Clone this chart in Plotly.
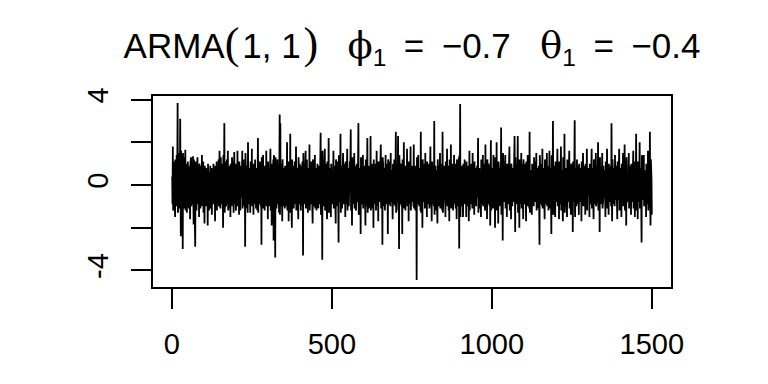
import plotly.graph_objects as go

# Simulated ARMA(1,1) series values (t = 1..1500), in six segments
y_seg1 = [
    0.4, -0.9, 1.8, -1.2, 0.6, -0.3, 1.1, -0.8, 0.9, -1.5, 1.2, -0.6, 0.3, -1.0, 1.4, -0.7, 0.8, 3.84, -1.3, 1.0,
    -0.4, 1.5, -1.1, 0.7, -0.5, 3.1, -0.9, -2.4, 1.6, -0.8, 0.9, -1.4, 1.2, -3.0, 1.5, -0.6, 0.4, -1.1, 1.3, -0.9,
    0.5, 1.65, -1.2, 0.8, -0.3, 1.0, -1.3, 0.6, -0.2, 1.1,
    -0.7, 0.9, -1.1, 0.3, 0.8, -0.5, -1.6, 1.0, -0.4, 1.3, -1.0, 0.6, -0.2, 0.7, -0.9, 1.35, -0.6, -1.85, 1.2, -0.3,
    0.5, -0.8, -2.9, 1.1, -0.4, 0.9, -1.2, 0.8, -0.6, 1.3, -0.9, 0.4, -0.1, 0.7, -1.5, 1.0, -0.7, 0.5, -1.1, 0.9,
    -0.3, 0.6, -1.0, 1.4, -0.8, 0.2, -0.5, 1.1, -1.3, 0.7,
    -0.4, -1.8, 0.9, -0.6, 0.5, -1.0, 0.8, -0.2, 0.4, -0.9, 0.7, -1.9, 1.0, -0.5, 0.3, -1.2, 0.6, -0.7, 0.2, 0.9,
    -1.1, 0.5, -0.3, 0.8, -1.4, 0.7, -0.6, 0.4, -0.9, 1.0, -0.5, 0.3, -1.0, 0.6, -1.7, 0.9, -0.4, 0.5, -0.8, 1.1,
    -1.2, 0.8, -0.3, 0.2, -0.7, 1.2, -1.0, 0.4, 1.6, -0.9,
    0.6, -1.1, 1.3, -0.5, 0.2, -0.9, 1.0, -0.7, 0.8, -2.0, 1.4, -0.6, 0.5, 2.9, -1.3, 0.7, -0.4, 1.1, -1.0, 0.3,
    -0.6, 1.2, -0.9, 0.4, 1.6, -1.2, 0.8, -0.3, 0.6, -1.1, 0.9, -0.2, -1.5, 1.0, -0.7, 0.5, -1.0, 1.3, -0.4, 0.2,
    -0.8, 1.1, -1.3, 0.6, 1.55, -0.9, 0.4, -0.6, 1.0, -1.2,
    0.9, -0.5, 0.3, -1.0, 1.6, -0.8, 0.6, -0.2, 0.7, -1.4, 1.1, -0.4, 0.5, -1.2, 0.9, -0.7, 0.2, -0.6, 1.0, 1.6,
    -1.1, 0.4, -0.9, 1.2, -0.3, 0.6, -1.0, 0.8, -2.9, 1.5, -0.6, 0.3, -1.1, 0.9, -0.4, 0.7, -1.3, 2.0, -0.9, 0.5,
    -0.2, 0.8, -1.0, 0.6, -1.3, 1.1, -0.5, 0.3, -0.8, 1.7,
]
y_seg2 = [
    -1.0, 0.6, -0.3, 0.9, -1.4, 1.0, -0.6, 0.4, -0.9, 1.2, -0.5, 0.2, -1.1, 0.8, -0.4, 0.6, -1.2, 1.0, 2.2, -1.3,
    0.7, -0.5, 0.3, -0.9, 1.1, -0.7, 0.5, -1.0, 0.9, -2.8, 1.3, -0.4, 0.6, -0.8, 1.4, -1.1, 0.3, -0.2, 0.8, -1.2,
    0.9, -0.6, 0.4, -0.9, 1.6, -1.0, 0.5, -0.3, 0.7, -1.6,
    1.1, -0.5, 0.4, -1.0, 0.8, -0.3, 0.6, 1.7, -1.2, 0.5, 0.3, -1.9, 1.0, -0.6, 0.2, -0.8, 1.2, -2.6, 1.4, -0.7,
    0.5, 0.9, -3.4, 1.3, -0.4, 0.6, -1.1, 0.8, -0.5, 1.2, -0.9, 0.3, -0.6, 0.9, -1.3, 0.7, 3.3, -1.4, 2.9, -1.0,
    0.4, -0.7, 1.0, -0.3, -1.7, 1.2, -0.5, 0.6, -1.0, 0.8,
    -0.6, 0.3, -1.1, 0.9, -0.4, 0.7, -1.0, 0.5, -0.8, 2.0, -1.2, 0.6, -0.3, 1.0, -1.7, 1.1, -0.5, 0.4, -0.9, 2.4,
    -1.3, 0.8, -0.2, 0.6, -2.0, 1.2, -0.7, 0.3, -0.5, 0.9, -1.1, 0.7, -0.4, 1.1, -0.9, 0.2, -0.6, 1.8, -1.2, 0.5,
    -0.3, 0.8, -1.0, 0.6, -1.6, 1.3, -0.6, 0.4, -0.9, 1.0,
    -0.7, 0.5, -1.2, 0.9, -0.3, 0.6, -1.0, 1.1, 0.7, -3.3, 1.5, -0.6, 0.3, -0.9, 1.0, -0.5, 0.2, 1.6, -1.1, 0.4,
    -0.8, 1.2, -0.4, 0.6, -1.3, 0.8, -0.2, 0.5, -1.0, 1.9, -1.2, 0.7, -0.5, 0.3, -0.9, 1.1, -0.6, 0.8, -0.3, -1.8,
    1.2, -0.7, 0.4, -1.0, 0.9, -0.4, 1.4, -1.1, 0.6, -0.5,
    0.8, -1.2, 0.5, -0.3, 1.0, -0.8, 0.6, -1.1, 0.9, -0.4, 0.3, -0.9, 1.2, -0.6, 2.45, -1.4, 0.7, -0.5, 0.8, -3.5,
    1.6, -0.7, 0.4, -1.0, 0.9, -0.3, 0.5, 1.7, -1.2, 0.6, -0.8, 1.0, -0.5, 0.2, -1.6, 1.1, -0.4, 0.7, -1.0, 2.2,
    -1.3, 0.5, -0.2, 0.8, -0.9, 0.6, -1.5, 1.0, -0.6, 0.4,
]
y_seg3 = [
    -0.9, 0.7, -0.4, 0.3, 1.6, -1.1, 0.5, -0.7, 0.9, -0.3, 0.6, -1.8, 1.2, -0.5, 0.4, -1.0, 0.8, -0.6, 1.1, -0.2,
    -2.7, 1.4, -0.6, 0.3, -0.8, 0.7, 2.4, -1.3, 0.6, -0.4, 0.9, -1.1, 0.5, -0.7, 1.5, -0.9, 0.2, -0.5, 1.0, -0.8,
    0.6, -1.5, 1.1, -0.4, 0.3, -0.9, 0.7, 1.7, -1.2, 0.5,
    -0.5, 0.8, -1.0, 0.4, -0.6, 1.1, -0.3, 0.5, 2.6, -1.2, 0.7, -0.4, -1.9, 1.3, -0.6, 0.2, -0.9, 0.8, -0.5, 1.5,
    -1.1, 0.6, -0.3, 0.9, -1.2, 0.4, -0.7, 1.0, -0.4, 0.3, -0.8, 1.2, 2.9, -1.4, 0.6, -0.5, 0.8, -1.0, 0.7, -2.3,
    1.3, -0.6, 0.4, -0.9, 1.0, -0.3, 1.4, -1.1, 0.5, -0.7,
    0.9, -0.4, 0.6, -0.8, -1.9, 1.2, -0.5, 0.3, -1.0, 0.7, 2.2, -1.3, 0.5, -0.6, 0.9, -1.1, 0.4, -0.2, 0.8, -0.9,
    2.3, -1.2, 0.6, -0.4, 1.0, -0.7, 0.3, -1.1, 0.8, -2.0, 1.2, -0.5, 0.7, -0.9, 0.4, -0.3, 1.0, -1.2, 0.6, 1.6,
    -1.0, 0.5, -0.7, 0.9, -1.7, 1.1, -0.4, 0.2, -0.8, 0.7,
    -0.6, 0.4, 1.9, -1.1, 0.6, -0.5, 0.9, -2.8, 1.3, -0.4, 0.7, -1.0, 0.5, -0.2, 0.8, -1.2, 0.3, 1.4, -0.9, 0.6,
    -0.7, 1.0, -0.4, 0.5, -2.3, 1.2, -0.6, 0.3, -0.9, 0.8, -0.5, 1.1, -1.0, 1.5, -0.8, 0.4, -0.3, 0.7, -1.1, -1.6,
    1.0, -0.5, 0.6, -0.9, 1.2, -0.4, 0.3, -1.0, 0.8, 2.5,
    -1.3, 0.6, -0.4, 0.9, -0.8, 0.5, 2.3, -1.2, 0.7, -3.0, 1.4, -0.5, 0.3, -0.9, 1.0, -0.6, 0.4, -1.0, 0.8, -2.3,
    1.2, -0.4, 0.6, -0.8, 2.0, -1.1, 0.5, -0.3, 0.7, -1.2, 0.9, -0.5, 0.2, -0.7, 1.7, -1.0, 0.6, -0.4, 0.8, -1.7,
    1.1, -0.6, 0.3, -0.9, 0.5, 1.8, -1.2, 0.4, -0.6, 0.9,
]
y_seg4 = [
    -0.8, 0.5, -0.3, 0.7, -1.0, 1.9, -1.1, 0.6, -0.5, 0.9, -1.2, 0.8, -0.4, 0.6, -4.45, 1.3, -0.2, 0.4, -0.9, 1.4,
    -0.7, 0.5, -1.0, 0.8, -0.3, 0.6, -1.2, 2.5, -1.3, 0.7, -0.4, 0.9, -2.0, 1.2, -0.6, 0.3, -0.8, 1.0, -0.5, 0.4,
    -1.1, 1.5, -0.9, 0.6, -0.3, 0.8, -1.5, 1.1, -0.4, 0.5,
    -0.9, 0.7, -0.5, 1.0, -1.1, 0.4, -0.6, 1.8, -1.0, 0.5, 0.3, -1.7, 1.1, -0.4, 0.6, -0.9, 0.8, -0.3, -1.0, 3.0,
    -1.4, 0.6, -0.5, 0.9, -1.2, 0.7, -0.2, 0.5, -0.8, -1.8, 1.2, -0.6, 0.4, -1.0, 0.9, -0.5, 0.3, 1.5, -1.1, 0.6,
    -0.7, 1.0, -0.4, 0.5, -1.2, 2.5, -1.3, 0.8, -0.6, 0.4,
    0.9, -0.7, 0.5, 0.2, -1.5, 1.1, -0.6, 0.4, -0.9, 1.7, -1.0, 0.6, -0.3, 0.8, -1.2, 0.9, -1.7, 1.2, -0.4, 0.5,
    -0.8, 1.9, -1.1, 0.3, -0.6, 1.0, -0.5, 0.7, -1.2, 0.6, -0.3, 1.4, -0.9, 0.4, -0.7, 1.0, -1.1, 0.5, 0.3, -1.6,
    1.2, -0.5, 0.8, -1.0, 0.6, -0.4, 1.3, -2.98, 1.4, -0.6,
    3.8, -1.5, 0.8, -0.4, 0.6, -1.0, 0.9, -0.3, 0.5, -1.5, 1.0, -0.6, 0.3, -0.8, 1.2, -0.9, 0.4, -0.2, 0.7, -1.5,
    1.1, -0.5, 0.6, -1.0, 0.8, -0.4, 0.9, -1.7, 0.5, 1.6, -1.2, 0.7, -0.5, 0.3, -0.9, 1.0, -0.6, 0.4, -1.1, 1.5,
    -0.8, 0.5, -0.3, 0.9, -1.4, 1.1, -0.7, 0.6, -0.4, 0.8,
    -1.0, 0.5, -0.6, 0.9, -0.3, 0.4, 2.2, -1.3, 0.7, -0.5, 0.8, -1.1, 0.6, -0.2, 0.5, -1.5, 1.2, -0.7, 0.4, -0.9,
    0.6, 1.4, -1.0, 0.3, -0.6, 1.0, -0.8, 0.5, -1.2, 1.9, -1.1, 0.6, -0.4, 0.8, -1.6, 1.2, -0.5, 0.3, -0.9, 1.0,
    -0.6, 0.4, -1.0, 0.9, -1.9, 0.7, 2.1, -1.2, 0.5, -0.7,
]
y_seg5 = [
    0.8, -0.4, 0.6, -1.1, 1.4, -0.7, 0.3, -0.5, 0.9, -2.0, 1.3, -0.6, 0.4, -0.9, 2.0, -1.2, 0.5, -0.3, 0.7, -1.8,
    1.1, -0.4, 0.6, -1.0, 0.8, -0.5, 0.2, -0.9, 2.7, -1.4, 0.7, -0.3, 0.9, -2.6, 1.5, -0.6, 0.4, -0.8, 1.0, -0.5,
    0.3, 1.4, -1.1, 0.6, -0.4, 0.9, -1.5, 1.0, -0.6, 0.5,
    -0.9, 0.6, -0.3, 0.4, 1.8, -1.2, 0.7, -0.5, 0.9, -1.6, 1.0, -0.4, 0.5, -1.0, 0.8, -0.6, 0.3, -0.8, 1.1, -0.7,
    2.3, 0.4, -2.2, 1.3, -0.5, 0.6, -0.9, 0.8, -0.3, 0.5, 2.3, -1.3, 0.6, -0.4, 0.7, -2.0, 1.2, -0.6, 0.3, -0.9,
    0.8, 1.5, -1.1, 0.5, -0.7, 1.0, -0.4, -1.6, 1.2, -0.5,
    0.7, -0.9, 0.4, -0.6, 1.0, -0.3, -1.7, 1.1, -0.5, 0.6, -0.8, 1.4, -1.0, 0.5, -0.4, 0.8, -1.1, 2.5, -1.3, 0.6,
    -0.2, 0.7, -0.9, 0.4, -1.4, 1.0, -0.5, 0.3, -0.7, 0.9, -1.0, 1.3, -0.6, 0.2, -0.8, 1.1, -0.4, 0.5, 1.5, -1.2,
    0.6, -0.3, 0.8, -1.1, 0.4, -0.6, 0.9, -0.5, -2.8, 1.4,
    -0.6, 0.4, -0.9, 1.0, -0.3, 0.6, -1.0, 1.7, -1.1, 0.5, -0.4, 0.8, -0.7, 0.3, -1.6, 1.2, -0.5, 0.6, -0.9, 0.4,
    -0.6, 1.5, -1.0, 0.7, -0.3, 0.5, -1.2, 0.9, -0.4, 1.6, -1.1, 0.6, -0.5, 0.8, -0.7, -2.3, 1.4, -0.6, 0.4, -0.9,
    3.0, -1.4, 0.7, -0.5, 0.3, -1.0, 0.9, -1.5, 1.1, -0.4,
    0.6, -0.8, 0.3, -0.5, 1.7, -1.0, 0.6, -0.4, 0.8, -1.6, 1.1, -0.6, 0.4, -0.9, 0.5, 1.8, -1.2, 0.7, -0.3, 0.6,
    -0.8, -1.7, 1.3, -0.5, 0.4, -0.9, 2.4, -1.3, 0.6, -0.2, 0.5, -1.0, 0.8, -0.6, -1.5, 1.2, -0.4, 0.7, -0.8, 0.3,
    -0.6, 1.6, -1.1, 0.5, -0.3, 0.9, -1.4, 1.0, -0.5, 0.4,
]
y_seg6 = [
    -0.7, 0.6, -2.2, 1.1, -0.4, 0.5, -0.8, 0.7, 3.03, -1.5, 0.6, -0.3, 0.8, -1.0, 0.4, 1.2, -0.9, 0.5, -0.6, 0.9,
    -0.5, -1.4, 1.0, -0.4, 0.6, -0.8, 0.3, -0.5, 0.8, -1.7, 1.1, -0.6, 0.4, -0.3, 1.5, -1.0, 0.5, -0.7, 0.9, -0.4,
    0.6, -1.4, 1.0, -0.5, 0.3, -0.8, 1.7, -1.2, 0.6, -0.4,
    0.8, -0.5, 0.3, 0.6, -1.5, 1.0, -0.4, 0.5, -0.9, 0.7, -0.6, 1.7, -1.1, 0.4, -0.3, 0.8, -0.7, -1.6, 1.2, -0.5,
    0.6, -0.9, 0.4, -0.2, 1.5, -1.0, 0.5, -0.6, 0.9, -0.8, 0.3, 2.0, -1.2, 0.6, -0.4, 0.7, -2.2, 1.3, -0.5, 0.4,
    -0.9, 0.8, -0.3, 0.5, 1.5, -1.1, 0.6, -0.7, 0.9, -0.6,
    0.5, -0.3, 0.7, -0.8, -1.5, 1.1, -0.4, 0.6, -0.9, 1.7, -1.1, 0.5, -0.3, 0.8, -1.4, 1.0, -0.6, 0.4, -0.8, 0.7,
    -0.5, 0.9, -1.0, 2.9, -0.6, -1.7, 1.2, -0.5, 0.4, -0.9, 0.6, -0.3, 0.8, -1.0, 1.4, -0.7, 0.5, -0.4, 0.9, -1.2,
    0.6, -1.6, 1.1, -0.5, 0.3, -0.7, 0.8, 1.7, -1.2, 0.4,
    -0.6, 0.8, -0.4, 0.3, -1.5, 1.0, -0.5, 0.6, -0.9, 1.5, -1.0, 0.4, -0.6, 0.7, 1.9, -1.2, 0.5, -0.3, 0.8, -1.9,
    1.3, -0.6, 0.4, -0.8, 0.6, -0.4, 0.9, 1.5, -1.1, 0.5, -0.7, 0.3, -0.5, 0.9, -1.4, 1.0, -0.6, 0.4, -0.8, 0.6,
    -0.3, 1.6, -1.1, 0.5, -0.4, 0.7, -1.5, 1.1, -0.6, 0.3,
    2.4, -1.2, 0.6, -0.4, 0.7, -1.6, 1.1, -0.5, 0.3, -0.8, 0.5, 2.0, -1.1, 0.6, -0.3, 0.8, -0.9, -2.7, 1.4, -0.5,
    0.4, -0.7, 0.9, -0.6, 1.4, -1.0, 0.5, -0.3, 0.7, -0.8, 0.6, -1.5, 1.0, -0.4, 0.3, -0.9, 0.8, 1.6, -1.2, 0.5,
    -0.6, 0.9, -0.3, 2.5, -1.0, -1.9, 1.2, -0.5, 0.3, -1.4,
]

y_values = y_seg1 + y_seg2 + y_seg3 + y_seg4 + y_seg5 + y_seg6
t_values = list(range(1, len(y_values) + 1))

x_tick_vals = [0, 500, 1000, 1500]
y_tick_vals = [-4, 0, 4]
y_tick_text = ["-4", "0", "4"]
y_minor_tick_vals = [-2, 2]

# R-style 4% axis padding
t_min, t_max = min(t_values), max(t_values)
y_min, y_max = min(y_values), max(y_values)
t_pad = 0.04 * (t_max - t_min)
y_pad = 0.04 * (y_max - y_min)

fig = go.Figure()
fig.add_trace(go.Scatter(
    x=t_values, y=y_values, mode="lines",
    line=dict(color="black", width=1.8),
    hoverinfo="skip",
))

serif = "font-family:'Liberation Serif','DejaVu Serif',serif"
paren = "<span style=\"" + serif + ";font-size:44px\">"
greek = "<span style=\"font-family:'DejaVu Serif','Liberation Serif',serif;font-size:37px\">"
sp = "\u2002"
title_text = (
    "ARMA" + paren + "(</span>\u200a1,\u00a01\u200a" + paren + ")</span>"
    "\u00a0\u00a0\u00a0" + greek + "\u03d5</span><sub>1</sub>" + sp + "=" + sp + "\u22120.7"
    "\u00a0\u00a0\u00a0" + greek + "\u03b8</span><sub>1</sub>" + sp + "=" + sp + "\u22120.4"
)

axis_common = dict(
    showline=True, linecolor="black", linewidth=1.5, mirror=True,
    ticks="outside", ticklen=20, tickwidth=1.5, tickcolor="black",
    showgrid=False, zeroline=False,
    tickfont=dict(size=29, color="black", family="Liberation Sans, Arial, sans-serif"),
)

fig.update_layout(
    width=768, height=384,
    margin=dict(l=153, r=97, t=96, b=97),
    paper_bgcolor="white", plot_bgcolor="white",
    showlegend=False,
    font=dict(family="Liberation Sans, Arial, sans-serif", color="black"),
    title=dict(
        text=title_text,
        x=(153 + 671) / 2 / 768, xanchor="center",
        y=1 - 46 / 384, yanchor="middle", yref="container",
        font=dict(size=35, color="black", family="Liberation Sans, Arial, sans-serif"),
    ),
    xaxis=dict(
        range=[t_min - t_pad, t_max + t_pad],
        tickvals=x_tick_vals,
        ticklabelstandoff=10,
        **axis_common,
    ),
    yaxis=dict(
        range=[y_min - y_pad, y_max + y_pad],
        tickvals=y_tick_vals, ticktext=y_tick_text,
        tickangle=-90,
        ticklabelstandoff=12,
        minor=dict(tickvals=y_minor_tick_vals, ticks="outside", ticklen=20,
                   tickwidth=1.5, tickcolor="black", showgrid=False),
        **axis_common,
    ),
)

fig.write_html("out.html")
